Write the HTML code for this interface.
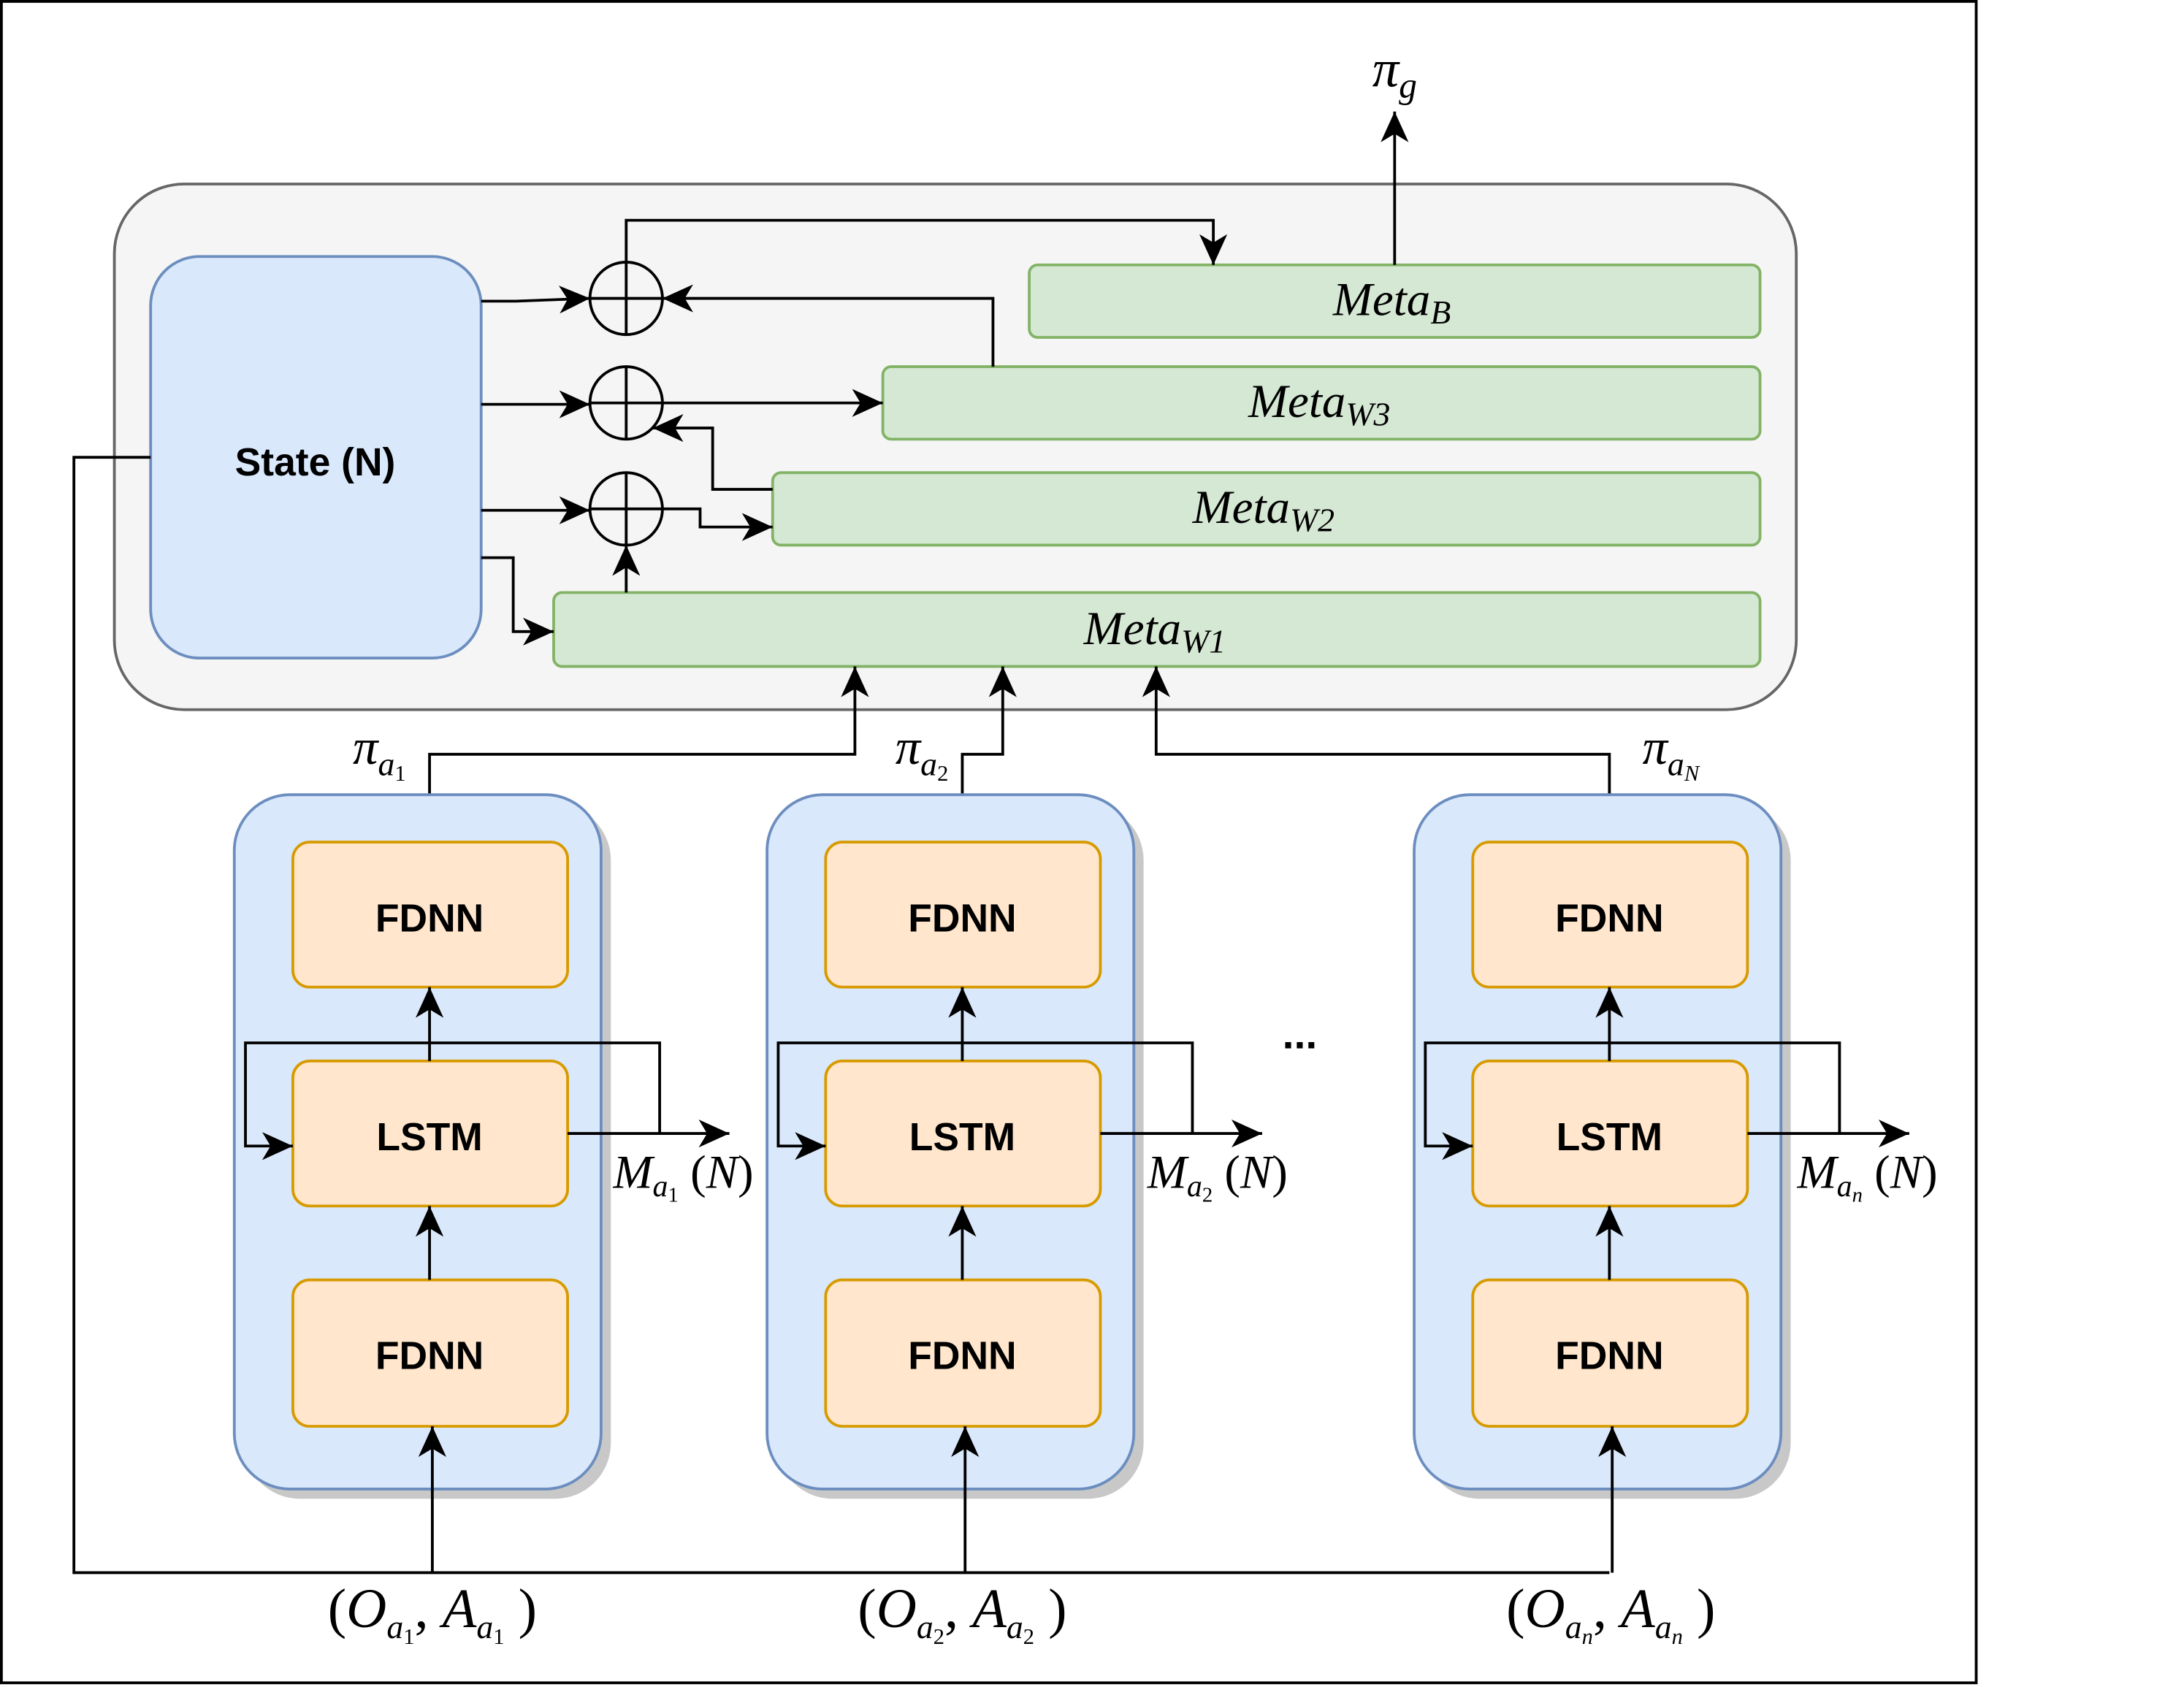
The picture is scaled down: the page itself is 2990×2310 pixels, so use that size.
<!DOCTYPE html>
<html><head><style>html,body{margin:0;padding:0;background:#fff}svg{display:block}</style></head><body>
<svg width="2990" height="2310" viewBox="0 0 1566 1210" preserveAspectRatio="none" xmlns="http://www.w3.org/2000/svg">
<defs>
<marker id="b" markerWidth="24" markerHeight="24" refX="22" refY="12" orient="auto" markerUnits="userSpaceOnUse" viewBox="0 0 24 24"><path d="M0,2 L22,12 L0,22 L6,12 Z" fill="#000"/></marker>
</defs>
<rect x="1" y="1" width="1416" height="1206" fill="#fff" stroke="#000" stroke-width="2"/>
<rect x="82" y="132" width="1206" height="377" rx="50" fill="#f5f5f5" stroke="#666" stroke-width="2"/>
<rect x="108" y="184" width="237" height="288" rx="35" fill="#dae8fc" stroke="#6c8ebf" stroke-width="2"/>
<text x="226" y="341" font-family="Liberation Sans, sans-serif" font-weight="bold" font-size="28" text-anchor="middle">State (N)</text>
<g fill="#d5e8d4" stroke="#82b366" stroke-width="2">
<rect x="738" y="190" width="524" height="52" rx="6"/>
<rect x="633" y="263" width="629" height="52" rx="6"/>
<rect x="554" y="339" width="708" height="52" rx="6"/>
<rect x="397" y="425" width="865" height="53" rx="6"/>
</g>
<g font-family="Liberation Serif, serif" font-style="italic" font-size="34" text-anchor="middle">
<text x="998" y="226">Meta<tspan font-size="24" dy="6">B</tspan></text>
<text x="946" y="299">Meta<tspan font-size="24" dy="6">W3</tspan></text>
<text x="906" y="375">Meta<tspan font-size="24" dy="6">W2</tspan></text>
<text x="828" y="462">Meta<tspan font-size="24" dy="6">W1</tspan></text>
<text x="1000" y="62" font-size="38">π<tspan font-size="26" dy="8">g</tspan></text>
<text x="272" y="548" font-size="36">π<tspan font-size="24" dy="8">a</tspan><tspan font-size="16" dy="4" font-style="normal">1</tspan></text>
<text x="661" y="548" font-size="36">π<tspan font-size="24" dy="8">a</tspan><tspan font-size="16" dy="4" font-style="normal">2</tspan></text>
<text x="1198" y="548" font-size="36">π<tspan font-size="24" dy="8">a</tspan><tspan font-size="16" dy="4">N</tspan></text>
<text x="490" y="852">M<tspan font-size="22" dy="6">a</tspan><tspan font-size="15" dy="4" font-style="normal">1</tspan><tspan dy="-10" font-style="normal"> (</tspan>N<tspan font-style="normal">)</tspan></text>
<text x="873" y="852">M<tspan font-size="22" dy="6">a</tspan><tspan font-size="15" dy="4" font-style="normal">2</tspan><tspan dy="-10" font-style="normal"> (</tspan>N<tspan font-style="normal">)</tspan></text>
<text x="1339" y="852">M<tspan font-size="22" dy="6">a</tspan><tspan font-size="15" dy="4">n</tspan><tspan dy="-10" font-style="normal"> (</tspan>N<tspan font-style="normal">)</tspan></text>
<text x="310" y="1167" font-size="40"><tspan font-style="normal">(</tspan>O<tspan font-size="24" dy="8">a</tspan><tspan font-size="16" dy="4" font-style="normal">1</tspan><tspan dy="-12" font-style="normal">, </tspan>A<tspan font-size="24" dy="8">a</tspan><tspan font-size="16" dy="4" font-style="normal">1</tspan><tspan dy="-12" font-style="normal"> )</tspan></text>
<text x="690" y="1167" font-size="40"><tspan font-style="normal">(</tspan>O<tspan font-size="24" dy="8">a</tspan><tspan font-size="16" dy="4" font-style="normal">2</tspan><tspan dy="-12" font-style="normal">, </tspan>A<tspan font-size="24" dy="8">a</tspan><tspan font-size="16" dy="4" font-style="normal">2</tspan><tspan dy="-12" font-style="normal"> )</tspan></text>
<text x="1155" y="1167" font-size="40"><tspan font-style="normal">(</tspan>O<tspan font-size="24" dy="8">a</tspan><tspan font-size="16" dy="4">n</tspan><tspan dy="-12" font-style="normal">, </tspan>A<tspan font-size="24" dy="8">a</tspan><tspan font-size="16" dy="4">n</tspan><tspan dy="-12" font-style="normal"> )</tspan></text>
</g>
<g fill="none" stroke="#000" stroke-width="2">
<circle cx="449" cy="214" r="26"/><path d="M423,214H475M449,188V240"/>
<circle cx="449" cy="289" r="26"/><path d="M423,289H475M449,263V315"/>
<circle cx="449" cy="365" r="26"/><path d="M423,365H475M449,339V391"/>
<path d="M345,216H370L423,214" marker-end="url(#b)"/>
<path d="M345,290H423" marker-end="url(#b)"/>
<path d="M345,366H423" marker-end="url(#b)"/>
<path d="M345,400H368V453H397" marker-end="url(#b)"/>
<path d="M449,188V158H870V190" marker-end="url(#b)"/>
<path d="M712,263V214H475" marker-end="url(#b)"/>
<path d="M475,289H633" marker-end="url(#b)"/>
<path d="M554,351H511V307H468" marker-end="url(#b)"/>
<path d="M475,365H502V378H554" marker-end="url(#b)"/>
<path d="M449,425V391" marker-end="url(#b)"/>
<path d="M1000,190V80" marker-end="url(#b)"/>
<path d="M108,328H53V1128H1154"/>
<path d="M308,604V541H613V478" marker-end="url(#b)"/>
<path d="M690,604V541H719V478" marker-end="url(#b)"/>
<path d="M1154,604V541H829V478" marker-end="url(#b)"/>
</g>
<g id="col">
<rect x="175" y="577" width="263" height="498" rx="40" fill="#c8c8c8"/>
<rect x="168" y="570" width="263" height="498" rx="40" fill="#dae8fc" stroke="#6c8ebf" stroke-width="2"/>
<g fill="#ffe6cc" stroke="#d79b00" stroke-width="2">
<rect x="210" y="604" width="197" height="104" rx="12"/>
<rect x="210" y="761" width="197" height="104" rx="12"/>
<rect x="210" y="918" width="197" height="105" rx="12"/>
</g>
<g font-family="Liberation Sans, sans-serif" font-weight="bold" font-size="28" text-anchor="middle">
<text x="308" y="668">FDNN</text><text x="308" y="825">LSTM</text><text x="308" y="982">FDNN</text>
</g>
<g fill="none" stroke="#000" stroke-width="2">
<path d="M310,1128V1023" marker-end="url(#b)"/>
<path d="M308,918V865" marker-end="url(#b)"/>
<path d="M308,761V708" marker-end="url(#b)"/>
<path d="M473,813V748H176V822H210" marker-end="url(#b)"/>
<path d="M407,813H523" marker-end="url(#b)"/>
</g>
</g>
<use href="#col" transform="translate(382,0)"/>
<use href="#col" transform="translate(846,0)"/>
<text x="932" y="752" font-family="Liberation Sans, sans-serif" font-weight="bold" font-size="30" text-anchor="middle">...</text>
</svg>
</body></html>
